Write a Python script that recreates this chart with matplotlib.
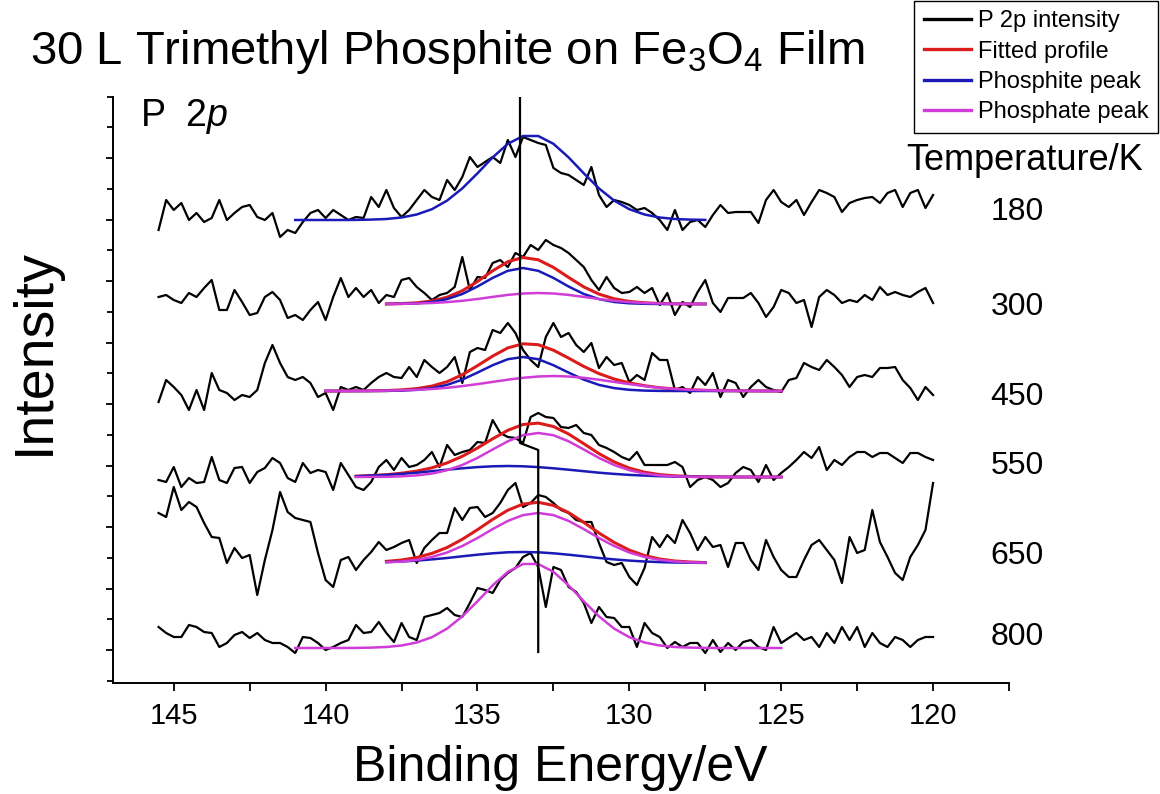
import numpy as np
import matplotlib
matplotlib.use('Agg')
import matplotlib.pyplot as plt
from matplotlib.lines import Line2D
from matplotlib.ticker import FixedLocator

plt.rcParams['font.family'] = ['Liberation Sans', 'DejaVu Sans']
plt.rcParams['mathtext.fontset'] = 'custom'
plt.rcParams['mathtext.rm'] = 'Liberation Sans'
plt.rcParams['mathtext.it'] = 'Liberation Sans:italic'

# raw spectra: binding energy grid (eV), 0.25 eV step, 145.5 -> 120
energy = np.arange(145.5, 119.99, -0.25)

temps = ['180', '300', '450', '550', '650', '800']
# vertical offsets of each spectrum in the stack (arb. units)
offsets = [463, 379, 292, 206, 120, 35]

# P 2p intensity above each spectrum's background (arb. units)
p2p_180 = [-10, 20, 10, 17, 0, 7, -2, 2, 20, 0, 7, 13, 15, 3, 0, 7, -17, -10, -13, -2,
           7, 10, 2, 10, 5, 0, 3, 2, 23, 13, 30, 12, 3, 10, 20, 30,
           23, 20, 40, 30, 43, 63, 53, 58, 63, 57, 80, 63, 83, 80, 77, 75, 52,
           47, 45, 40, 35, 53, 25, 13, 20, 18, 15, 10, 12, 7, 0, -10, 10, -10, -2, 0, -7,
           5, 15, 7, 8, 8, 8, -3, 20, 30, 18, 13, 20, 5, 18, 30, 27, 23, 8, 17, 20,
           22, 23, 17, 27, 30, 13, 27, 30, 12, 25]
p2p_300 = [7, 9, 4, 1, 11, 7, 16, 24, -6, -6, 14, 2, -11, -9, 7, 12, 4, -14, -11, -16,
           -6, 2, -16, 7, 26, 7, 16, 7, 14, 1, 9, 7, 24, 26, 17, 11, 4, 9, 11, 17,
           47, 14, 27, 26, 41, 44, 37, 51, 47, 59, 54, 64, 59,
           56, 51, 44, 37, 24, 14, 27, 16, 11, 12, 17, 11, 16, -1, 11, -11, 2, -3, 12, 24,
           1, -8, 6, 6, 6, 11, 1, -13, -3, 14, 11, 1, 4, -23, 7, 14, 9, 1, 4, 2,
           9, 4, 17, 9, 12, 9, 7, 12, 16, 1]
p2p_450 = [-11, 11, 4, -4, -19, 1, -19, 18, 1, -2, -9, -4, -6, 1, 28, 46, 28, 14, 11, 14,
           8, -6, -2, -19, 4, 1, 4, 1, 8, 14, 18, 14, 13, 24, 14, 31, 24, 18, 24, 34,
           8, 39, 43, 41, 61, 58, 68, 58, 41, 31, 24, 54, 68,
           54, 58, 46, 39, 48, 23, 34, 26, 28, 9, 16, 11, 38, 31, 31, 1, 4, -2, 14, 6,
           18, -6, 11, 8, -6, 4, 11, 4, 1, -1, 11, 13, 28, 24, 21, 31, 24, 16, 4, 14,
           16, 14, 23, 23, 24, 11, 3, -9, 4, -4]
p2p_550 = [-3, -5, 10, -10, -1, -6, -5, 20, -3, -6, 9, 10, -6, 5, 9, 19, 14, -1, -5, 14,
           4, 7, 5, -13, 14, 2, -10, -13, -5, 10, 17, 7, 19, 10, 12, 17, 25, 10, 32, 22,
           25, 27, 35, 34, 57, 44, 40, 39, 34, 60, 64, 60, 59,
           50, 49, 52, 44, 42, 32, 29, 25, 20, 17, 25, 12, 12, 12, 12, 15, 10, -10, -3, 0,
           -3, -10, -6, 4, 10, 7, -5, 12, -3, 4, 10, 17, 25, 19, 30, 7, 17, 12, 20, 25,
           25, 20, 24, 24, 19, 14, 24, 24, 20, 17]
p2p_650 = [50, 46, 76, 53, 61, 56, 40, 26, 25, 0, 15, 5, 8, -32, 3, 33, 71, 51, 45, 43,
           41, 10, -17, -24, 3, 6, -7, 3, 11, 21, 13, 16, 20, 23, 0, 15, 23, 30, 30, 55,
           43, 55, 56, 46, 50, 60, 73, 80, 56, 60, 68, 66, 60,
           53, 50, 43, 41, 41, 20, 1, -2, 0, -14, -22, -5, 26, 16, 28, 20, 43, 30, 13, 26,
           16, 18, -4, 20, 20, 3, -7, 23, 6, -7, -14, -14, 3, 18, 23, 13, 3, -20, 26, 10,
           13, 53, 21, 6, -10, -17, 6, 18, 33, 80]
p2p_800 = [21, 15, 11, 11, 23, 21, 16, 15, 1, 5, 13, 16, 10, 15, 8, 5, 5, 1, -5, 11,
           10, 5, -2, 1, 5, 8, 23, 15, 16, 26, 15, 6, 25, 11, 8, 31, 33, 35, 40, 33,
           31, 45, 60, 58, 55, 68, 75, 80, 91, 95, 81, 41, 81,
           78, 61, 56, 45, 25, 41, 31, 30, 21, 21, 1, 25, 15, 11, 0, 6, 1, 5, 5, -5,
           8, -4, 5, -2, 6, 8, 1, -2, 21, 5, 10, 15, 8, 11, 1, 15, 5, 21, 8, 21,
           1, 15, 5, 1, 11, 8, 1, 8, 11, 11]
spectra = [p2p_180, p2p_300, p2p_450, p2p_550, p2p_650, p2p_800]

# fitted components, 0.5 eV step between the start and end energies
fit_range = {'180': (141.0, 127.5), '300': (138.0, 127.5), '450': (140.0, 125.0),
             '550': (139.0, 125.0), '650': (138.0, 127.5), '800': (141.0, 125.0)}

blue_180 = [0, 0, 0, 0, 0.1, 0.4, 1.0, 2.5, 5.5, 10.8, 19.4, 31.6, 46.7, 62.6, 76.2,
            84.0, 84.0, 76.2, 62.6, 46.7, 31.6, 19.4, 10.8, 5.5, 2.5, 1.0, 0.4, 0.1]

red_300 = [0.1, 0.4, 1.2, 3.0, 6.8, 13.2, 22.5, 33.2, 42.3, 46.5, 44.2, 36.6, 26.6, 17.1,
           9.9, 5.2, 2.6, 1.2, 0.5, 0.2, 0.1, 0.0]
blue_300 = [0, 0.2, 0.7, 2.0, 4.9, 10.0, 17.5, 26.1, 33.2, 36.0, 33.2, 26.1, 17.5, 10.0,
            4.9, 2.0, 0.7, 0.2, 0, 0, 0, 0]
mag_300 = [0.1, 0.2, 0.5, 1.0, 1.9, 3.2, 5.0, 7.1, 9.1, 10.5, 11.0, 10.5, 9.1, 7.1,
           5.0, 3.2, 1.9, 1.0, 0.5, 0.2, 0.1, 0.0]

red_450 = [0, 0, 0.1, 0.2, 0.4, 1.1, 2.4, 4.9, 9.3, 16.3, 25.3, 34.9, 43.1, 47.2, 46.3,
           40.8, 32.9, 24.6, 17.4, 12.0, 8.1, 5.3, 3.3, 2.0, 1.2, 0.7, 0.3, 0.2, 0.1, 0, 0]
blue_450 = [0, 0, 0, 0, 0.1, 0.4, 1.2, 2.9, 6.1, 11.4, 18.4, 25.8, 31.8, 34.0, 31.8,
            25.8, 18.4, 11.4, 6.1, 2.9, 1.2, 0.4, 0.1, 0, 0, 0, 0, 0, 0, 0, 0]
mag_450 = [0, 0, 0.1, 0.2, 0.3, 0.7, 1.2, 2.0, 3.2, 4.9, 6.9, 9.1, 11.3, 13.2, 14.5,
           15.0, 14.5, 13.2, 11.3, 9.1, 6.9, 4.9, 3.2, 2.0, 1.2, 0.7, 0.3, 0.2, 0.1, 0, 0]

red_550 = [0.8, 1.5, 2.3, 3.8, 5.9, 9.2, 14.1, 20.7, 29.0, 38.2, 46.7, 52.5, 53.9, 50.5,
           43.0, 33.3, 23.4, 15.1, 8.9, 4.8, 2.4, 1.2, 0.5, 0.2, 0.1, 0, 0, 0, 0]
blue_550 = [0.8, 1.4, 2.1, 3.1, 4.3, 5.8, 7.3, 8.7, 9.9, 10.7, 11.0, 10.7, 9.9, 8.7,
            7.3, 5.8, 4.3, 3.1, 2.1, 1.4, 0.8, 0.5, 0.3, 0.1, 0.1, 0, 0, 0, 0]
mag_550 = [0, 0.1, 0.2, 0.7, 1.6, 3.4, 6.8, 12.0, 19.1, 27.5, 35.7, 41.8, 44.0, 41.8,
           35.7, 27.5, 19.1, 12.0, 6.8, 3.4, 1.6, 0.7, 0.2, 0.1, 0, 0, 0, 0, 0]

red_650 = [1.6, 3.0, 5.5, 9.6, 15.5, 23.7, 33.3, 43.6, 52.8, 58.9, 60.7, 57.6, 50.4, 40.6,
           30.0, 20.6, 12.9, 7.5, 4.0, 2.0, 1.0, 0.4]
blue_650 = [0.9, 1.5, 2.4, 3.6, 5.0, 6.7, 8.3, 9.7, 10.7, 11.0, 10.7, 9.7, 8.3, 6.7,
            5.0, 3.6, 2.4, 1.5, 0.9, 0.5, 0.3, 0.1]
mag_650 = [0.7, 1.5, 3.1, 6.0, 10.5, 17.0, 25.0, 33.9, 42.1, 47.9, 50.0, 47.9, 42.1, 33.9,
           25.0, 17.0, 10.5, 6.0, 3.1, 1.5, 0.7, 0.3]

mag_800 = [0, 0, 0, 0, 0.1, 0.4, 1.0, 2.5, 5.5, 10.8, 19.4, 31.6, 46.7, 62.6, 76.2,
           84.0, 84.0, 76.2, 62.6, 46.7, 31.6, 19.4, 10.8, 5.5, 2.5, 1.0, 0.4, 0.1, 0, 0, 0, 0, 0]

fitted = {'300': red_300, '450': red_450, '550': red_550, '650': red_650}
phosphite = {'180': blue_180, '300': blue_300, '450': blue_450, '550': blue_550, '650': blue_650}
phosphate = {'300': mag_300, '450': mag_450, '550': mag_550, '650': mag_650, '800': mag_800}

# peak position marker (eV, stacked intensity)
marker_ev = [133.6, 133.6, 133.0, 133.0]
marker_y = [586, 240, 233, 31]

c_red = '#dc1c1c'
c_blue = '#1a1ab8'
c_mag = '#d03cd8'

W, H = 1160, 794
fig = plt.figure(figsize=(W / 100, H / 100), dpi=100)
ax = fig.add_axes([113 / W, 1 - 683 / H, (1009 - 113) / W, (683 - 97) / H])


def fit_x(t):
    start, stop = fit_range[t]
    return np.arange(start, stop - 0.01, -0.5)


for t, off, y in zip(temps, offsets, spectra):
    ax.plot(energy, off + np.array(y), color='black', lw=1.6, zorder=2)

for t, off in zip(temps, offsets):
    if t in fitted:
        ax.plot(fit_x(t), off + np.array(fitted[t]), color=c_red, lw=2.2, zorder=3)
    if t in phosphite:
        ax.plot(fit_x(t), off + np.array(phosphite[t]), color=c_blue, lw=1.8, zorder=4)
    if t in phosphate:
        ax.plot(fit_x(t), off + np.array(phosphate[t]), color=c_mag, lw=1.8, zorder=5)

ax.plot(marker_ev, marker_y, color='black', lw=1.6, zorder=6)

ax.set_xlim(147, 117.5)
ax.set_ylim(0, 586)
ax.set_xticks([145, 140, 135, 130, 125, 120])
ax.xaxis.set_minor_locator(FixedLocator([142.5, 137.5, 132.5, 127.5, 122.5, 117.5]))
ax.yaxis.set_major_locator(FixedLocator(list(33 + 61.5 * np.arange(9))))
ax.yaxis.set_minor_locator(FixedLocator(list(2.25 + 61.5 * np.arange(10)) + [586]))
ax.set_yticklabels([])
for s in ['top', 'right']:
    ax.spines[s].set_visible(False)
for s in ['left', 'bottom']:
    ax.spines[s].set_linewidth(1.4)
ax.tick_params(axis='x', which='both', direction='out', length=6, width=1.3,
               labelsize=21, pad=8)
ax.tick_params(axis='y', which='major', direction='out', length=5, width=1.3)
ax.tick_params(axis='y', which='minor', direction='out', length=4, width=1.3)

fig.text(30 / W, 1 - 52 / H, r'30 L Trimethyl Phosphite on Fe$_3$O$_4$ Film',
         fontsize=34, va='center', ha='left')
fig.text(140 / W, 1 - 116 / H, r'P  2$p$', fontsize=27, va='center', ha='left')
fig.text(1025 / W, 1 - 160 / H, 'Temperature/K', fontsize=26, va='center', ha='center')
label_y = [212, 307, 397, 466, 556, 637]
for t, ly in zip(temps, label_y):
    fig.text(1017 / W, 1 - ly / H, t, fontsize=23, va='center', ha='center')

fig.text(560 / W, 1 - 768 / H, 'Binding Energy/eV', fontsize=36, va='center', ha='center')
fig.text(35 / W, 1 - 352 / H, 'Intensity', fontsize=40, va='center', ha='center',
         rotation=90)

handles = [Line2D([], [], color='black', lw=2.4),
           Line2D([], [], color=c_red, lw=2.4),
           Line2D([], [], color=c_blue, lw=2.4),
           Line2D([], [], color=c_mag, lw=2.4)]
leg = ax.legend(handles, ['P 2p intensity', 'Fitted profile', 'Phosphite peak', 'Phosphate peak'],
                loc='upper right', bbox_to_anchor=(1158 / W, 1 - 1 / H),
                bbox_transform=fig.transFigure, fontsize=17, frameon=True,
                fancybox=False, edgecolor='black', framealpha=1, borderpad=0.4,
                labelspacing=0.35, handlelength=2.0, handletextpad=0.3, borderaxespad=0)
leg.get_frame().set_linewidth(1.0)

fig.savefig('out.png', dpi=100)
